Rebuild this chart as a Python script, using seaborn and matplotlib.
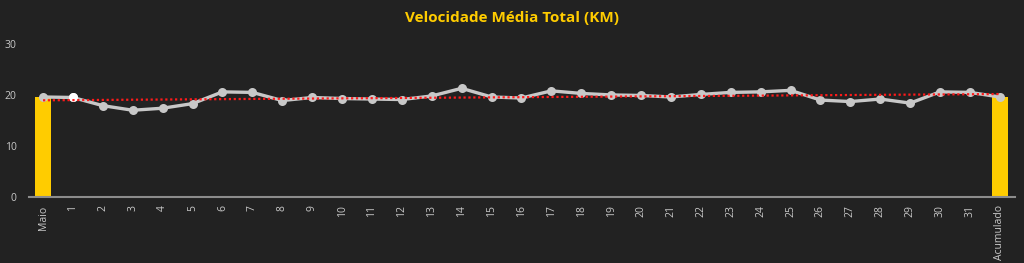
import numpy as np
import pandas as pd
import matplotlib
matplotlib.use("Agg")
import matplotlib.pyplot as plt
import seaborn as sns

categories = ["Maio"] + [str(d) for d in range(1, 32)] + ["Acumulado"]
line_values = [19.6, 19.5, 17.9, 17.0, 17.4, 18.3, 20.6, 20.5, 18.9, 19.5,
               19.3, 19.2, 19.1, 19.8, 21.3, 19.6, 19.4, 20.8, 20.3, 20.0,
               19.9, 19.6, 20.1, 20.5, 20.6, 20.9, 19.0, 18.7, 19.2, 18.4,
               20.6, 20.5, 19.6]
bar_values = [19.6] + [np.nan] * 31 + [19.6]
title = "Velocidade Média Total (KM)"

BG = "#222222"
sns.set_theme(style="dark")
plt.rcParams["font.family"] = ["Open Sans", "DejaVu Sans"]

fig = plt.figure(figsize=(10.24, 2.63), dpi=100, facecolor=BG)
ax = fig.add_axes([0.0283, 0.251, 0.9627, 0.582])
ax.set_facecolor(BG)

pos = np.arange(len(categories))
df = pd.DataFrame({"cat": categories, "pos": pos, "val": line_values, "bar": bar_values})

sns.barplot(data=df, x="cat", y="bar", order=categories, color="#FFCC00",
            width=0.55, saturation=1, linewidth=0, ax=ax, zorder=1)
sns.lineplot(data=df, x="pos", y="val", color="#C8C8C8", linewidth=2.4,
             marker="o", markersize=6.5, markeredgewidth=0, ax=ax, zorder=3)
ax.plot(pos[1], line_values[1], "o", color="white", markersize=6.5,
        markeredgewidth=0, zorder=4)
sns.regplot(data=df, x="pos", y="val", scatter=False, ci=None, ax=ax,
            line_kws=dict(color="#FF1A1A", linestyle=(0, (1, 1.2)), linewidth=1.6, zorder=5))

ax.set_xlim(-0.47, 32.5)
ax.set_ylim(0, 30)
ax.set_yticks([0, 10, 20, 30])
ax.set_xticks(pos)
ax.set_xticklabels(categories, rotation=90)
ax.tick_params(axis="both", colors="#C8C8C8", labelsize=7.5, length=0)
ax.tick_params(axis="x", pad=6)
ax.tick_params(axis="y", pad=9)
ax.set_xlabel("")
ax.set_ylabel("")
ax.grid(False)
for s in ["top", "right", "left"]:
    ax.spines[s].set_visible(False)
ax.spines["bottom"].set_color("#8C8C8C")
ax.spines["bottom"].set_linewidth(1.5)
ax.spines["bottom"].set_zorder(6)

fig.text(0.5, 0.93, title, ha="center", va="center", color="#FFCC00",
         fontsize=11, fontweight="bold")

fig.savefig("out.png", dpi=100, facecolor=BG)
